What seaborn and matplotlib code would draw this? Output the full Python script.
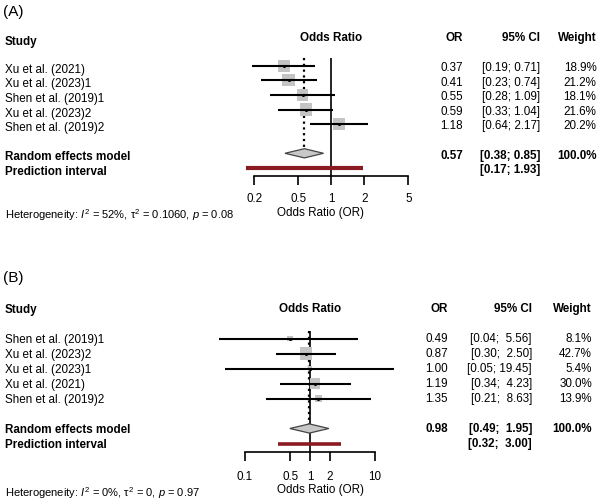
import numpy as np
import pandas as pd
import matplotlib
matplotlib.use("Agg")
import matplotlib.pyplot as plt
import matplotlib.transforms as mtransforms
from matplotlib.ticker import NullLocator, FixedLocator, FixedFormatter
import seaborn as sns

# ---------------- data ----------------
a_study = ["Xu et al. (2021)", "Xu et al. (2023)1", "Shen et al. (2019)1",
           "Xu et al. (2023)2", "Shen et al. (2019)2"]
a_or = [0.37, 0.41, 0.55, 0.59, 1.18]
a_lo = [0.19, 0.23, 0.28, 0.33, 0.64]
a_hi = [0.71, 0.74, 1.09, 1.04, 2.17]
a_weight = [18.9, 21.2, 18.1, 21.6, 20.2]
a_re = [0.57, 0.38, 0.85]
a_re_weight = 100.0
a_pi = [0.17, 1.93]
a_ticks = [0.2, 0.5, 1, 2, 5]
a_het = ["52%", "0.1060", "0.08"]

b_study = ["Shen et al. (2019)1", "Xu et al. (2023)2", "Xu et al. (2023)1",
           "Xu et al. (2021)", "Shen et al. (2019)2"]
b_or = [0.49, 0.87, 1.00, 1.19, 1.35]
b_lo = [0.04, 0.30, 0.05, 0.34, 0.21]
b_hi = [5.56, 2.50, 19.45, 4.23, 8.63]
b_weight = [8.1, 42.7, 5.4, 30.0, 13.9]
b_re = [0.98, 0.49, 1.95]
b_re_weight = 100.0
b_pi = [0.32, 3.00]
b_ticks = [0.1, 0.5, 1, 2, 10]
b_het = ["0%", "0", "0.97"]

# ---------------- style ----------------
sns.set_theme(style="white")
plt.rcParams["font.family"] = ["Liberation Sans", "DejaVu Sans"]
plt.rcParams["mathtext.fontset"] = "custom"
plt.rcParams["mathtext.rm"] = "Liberation Sans"
plt.rcParams["mathtext.it"] = "Liberation Sans:italic"
plt.rcParams["mathtext.bf"] = "Liberation Sans:bold"

W, H = 600, 504
fig = plt.figure(figsize=(6, 5.04), dpi=100)
fig.patch.set_facecolor("white")

FS = 8.4
SQ = "#c4c4c4"
RED = "#8b1a22"


def panel(tag, tag_y, study, est, lo, hi, wt, re, re_w, pi, ticks, het,
          row1, step, one_px, dec_px, col_or, col_ci, col_w,
          loff, roff, hdr_row, study_hdr_row, het_y, tick_pad, lab_pad, pi_lw):
    x0, x1 = 200, 440
    top = row1 - step
    bot = row1 + 7.55 * step
    ax = fig.add_axes([x0 / W, 1 - bot / H, (x1 - x0) / W, (bot - top) / H])
    ax.set_xscale("log")
    ax.set_xlim(10 ** ((x0 - one_px) / dec_px), 10 ** ((x1 - one_px) / dec_px))
    ax.set_ylim(8.55, 0)
    ax.patch.set_alpha(0)

    rows = np.arange(1, len(study) + 1)
    wmax = max(wt)
    side_px = [12.5 * np.sqrt(w / wmax) for w in wt]
    sizes = {w: (s / (100 / 72)) ** 2 for w, s in zip(wt, side_px)}
    df = pd.DataFrame({"OR": est, "row": rows, "w": wt})
    sns.scatterplot(data=df, x="OR", y="row", size="w", sizes=sizes,
                    marker="s", color=SQ, linewidth=0, legend=False,
                    ax=ax, zorder=2, clip_on=False)
    ax.hlines(rows, lo, hi, color="black", lw=1.5, zorder=3, clip_on=False)
    sns.scatterplot(data=df, x="OR", y="row", marker="o", color="black",
                    s=5, linewidth=0, legend=False, ax=ax, zorder=4, clip_on=False)

    # reference line and summary line
    ax.vlines(1, 0.5, 8.55, color="black", lw=1.2, zorder=1, clip_on=False)
    h = 4.6 / step
    ax.vlines(re[0], 0.5, 7 - h, color="black", lw=1.6,
              linestyle=(0, (1, 1.6)), zorder=1)
    ax.fill([re[1], re[0], re[2], re[0]], [7, 7 - h, 7, 7 + h],
            facecolor="#c8c8c8", edgecolor="#444444", lw=0.9, zorder=3)
    ax.hlines(8, pi[0], pi[1], color=RED, lw=pi_lw, zorder=3, clip_on=False)

    # axis
    for s in ["top", "left", "right"]:
        ax.spines[s].set_visible(False)
    ax.spines["bottom"].set_bounds(ticks[0], ticks[-1])
    ax.spines["bottom"].set_linewidth(1.2)
    ax.spines["bottom"].set_color("black")
    ax.xaxis.set_major_locator(FixedLocator(ticks))
    ax.xaxis.set_major_formatter(FixedFormatter([f"{t:g}" for t in ticks]))
    ax.xaxis.set_minor_locator(NullLocator())
    ax.set_yticks([])
    ax.tick_params(axis="x", bottom=True, direction="out", length=6.5,
                   width=1.2, color="black", pad=tick_pad, labelsize=FS,
                   labelcolor="black")
    ax.set_xlabel("Odds Ratio (OR)", fontsize=FS, labelpad=lab_pad, color="black")
    ax.set_ylabel("")

    tr = mtransforms.blended_transform_factory(fig.transFigure, ax.transData)
    kw = dict(transform=tr, va="center", fontsize=FS, color="black", clip_on=False)

    # headers
    ax.text(5 / W, study_hdr_row, "Study", fontweight="bold", ha="left", **kw)
    ax.text(1, hdr_row, "Odds Ratio", fontweight="bold", ha="center", va="center",
            fontsize=FS, color="black", clip_on=False)
    ax.text(col_or / W, hdr_row, "OR", fontweight="bold", ha="right", **kw)
    ax.text(col_ci / W, hdr_row, "95% CI", fontweight="bold", ha="right", **kw)
    ax.text(col_w / W, hdr_row, "Weight", fontweight="bold", ha="right", **kw)

    wid = max(len(f"{v:.2f}") for v in list(hi) + [re[2], pi[1]])
    for r, name, e, l, u, w in zip(rows, study, est, lo, hi, wt):
        ax.text(5 / W, r + loff, name, ha="left", **kw)
        ax.text(col_or / W, r + roff, f"{e:.2f}", ha="right", **kw)
        ax.text(col_ci / W, r + roff, f"[{l:.2f}; {u:{wid}.2f}]", ha="right", **kw)
        ax.text(col_w / W, r + roff, f"{w:.1f}%", ha="right", **kw)

    ax.text(5 / W, 7 + loff, "Random effects model", fontweight="bold", ha="left", **kw)
    ax.text(5 / W, 8 + loff, "Prediction interval", fontweight="bold", ha="left", **kw)
    ax.text(col_or / W, 7 + roff, f"{re[0]:.2f}", fontweight="bold", ha="right", **kw)
    ax.text(col_ci / W, 7 + roff, f"[{re[1]:.2f}; {re[2]:{wid}.2f}]",
            fontweight="bold", ha="right", **kw)
    ax.text(col_w / W, 7 + roff, f"{re_w:.1f}%", fontweight="bold", ha="right", **kw)
    ax.text(col_ci / W, 8 + roff, f"[{pi[0]:.2f}; {pi[1]:{wid}.2f}]",
            fontweight="bold", ha="right", **kw)

    fig.text(3 / W, 1 - tag_y / H, tag, fontsize=11, ha="left", va="center", color="black")
    fig.text(5 / W, 1 - het_y / H,
             f"Heterogeneity: $I^2$ = {het[0]}, τ$^2$ = {het[1]}, $p$ = {het[2]}",
             fontsize=8.0, ha="left", va="center", color="black")
    return ax


panel("(A)", 12, a_study, a_or, a_lo, a_hi, a_weight, a_re, a_re_weight, a_pi,
      a_ticks, a_het,
      row1=65.7, step=14.6, one_px=331.3, dec_px=110.2,
      col_or=463, col_ci=540, col_w=596.5,
      loff=0.28, roff=0.16, hdr_row=-0.88, study_hdr_row=-0.62, het_y=215,
      tick_pad=6, lab_pad=1.0, pi_lw=3.0)

panel("(B)", 278, b_study, b_or, b_lo, b_hi, b_weight, b_re, b_re_weight, b_pi,
      b_ticks, b_het,
      row1=338.5, step=15.0, one_px=310, dec_px=65,
      col_or=448, col_ci=532, col_w=592,
      loff=0.1, roff=0.05, hdr_row=-0.95, study_hdr_row=-0.9, het_y=493,
      tick_pad=7.5, lab_pad=0.5, pi_lw=2.6)

fig.savefig("out.png", dpi=100, facecolor="white")
